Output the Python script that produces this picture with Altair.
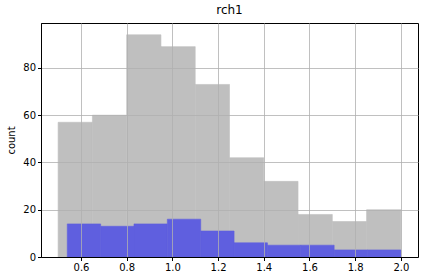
import altair as alt
import pandas as pd

gray_edges = [0.5, 0.65, 0.8, 0.95, 1.1, 1.25, 1.4, 1.55, 1.7, 1.85, 2.0]
gray_counts = [57, 60, 94, 89, 73, 42, 32, 18, 15, 20]
blue_edges = [0.54, 0.686, 0.832, 0.978, 1.124, 1.27, 1.416, 1.562, 1.708, 1.854, 2.0]
blue_counts = [14, 13, 14, 16, 11, 6, 5, 5, 3, 3]
x_ticks = [0.6, 0.8, 1.0, 1.2, 1.4, 1.6, 1.8, 2.0]
y_ticks = [0, 20, 40, 60, 80]

gray = pd.DataFrame({"x": gray_edges[:-1], "x2": gray_edges[1:], "c": gray_counts})
blue = pd.DataFrame({"x": blue_edges[:-1], "x2": blue_edges[1:], "c": blue_counts})

xs = alt.Scale(domain=[0.425, 2.075], nice=False, zero=False)
ys = alt.Scale(domain=[0, 99], nice=False)

xax = alt.Axis(values=x_ticks, format=".1f", title=None, grid=True, zindex=1)
yax = alt.Axis(values=y_ticks, title="count", grid=True, zindex=1, titlePadding=6)

g = alt.Chart(gray).mark_rect(color="#bfbfbf", stroke="#bfbfbf", strokeWidth=0.6).encode(
    x=alt.X("x:Q", scale=xs, axis=xax),
    x2="x2:Q",
    y=alt.Y("c:Q", scale=ys, axis=yax),
    y2=alt.datum(0),
)
b = alt.Chart(blue).mark_rect(color="#5f5fdf", stroke="#5f5fdf", strokeWidth=0.6).encode(
    x=alt.X("x:Q", scale=xs),
    x2="x2:Q",
    y=alt.Y("c:Q", scale=ys),
    y2=alt.datum(0),
)

chart = alt.layer(g, b).properties(
    width=377, height=234,
    background="white",
    title=alt.TitleParams("rch1", fontSize=12, font="DejaVu Sans", fontWeight="normal", offset=6, color="black"),
    padding={"left": 41, "top": 23, "right": 6, "bottom": 24},
    autosize=alt.AutoSizeParams(type="none"),
).configure_view(stroke="black", strokeWidth=1).configure_axis(
    domainColor="black", tickColor="black", tickSize=3.5, labelPadding=2,
    labelFont="DejaVu Sans", labelFontSize=10, labelColor="black",
    titleFont="DejaVu Sans", titleFontSize=10, titleFontWeight="normal", titleColor="black",
    gridColor="#b0b0b0", gridWidth=0.8, gridOpacity=1,
)

chart.save("out.html", embed_options={"renderer": "svg", "actions": False})
